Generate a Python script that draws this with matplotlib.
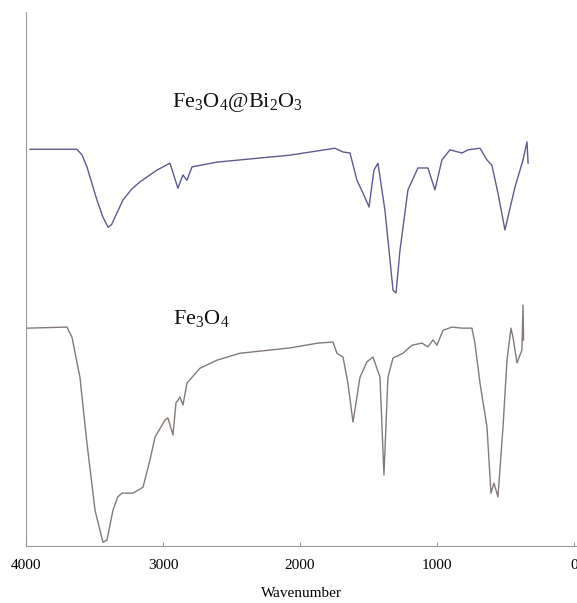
import matplotlib
matplotlib.use('Agg')
import matplotlib.pyplot as plt

# FTIR spectra (transmittance in arbitrary units)
wn_coated = [3971, 3628, 3590, 3555, 3482, 3438, 3401, 3375, 3350, 3292,
             3230, 3168, 3044, 2949, 2891, 2854, 2825, 2788, 2606, 2073,
             1745, 1686, 1635, 1584, 1540, 1496, 1460, 1431, 1380, 1343,
             1321, 1299, 1270, 1212, 1139, 1066, 1015, 964, 905, 818,
             774, 686, 635, 599, 555, 504, 431, 372, 343, 335]
t_coated = [74.3, 74.3, 73.2, 71.0, 64.8, 61.6, 59.7, 60.2, 61.6, 64.8,
            66.8, 68.2, 70.4, 71.7, 67.0, 69.5, 68.5, 71.0, 71.9, 73.2,
            74.5, 73.8, 73.6, 68.5, 66.1, 63.5, 70.4, 71.7, 62.9, 53.6,
            47.9, 47.4, 55.4, 66.7, 70.8, 70.8, 66.7, 72.3, 74.2, 73.6,
            74.2, 74.5, 72.3, 71.3, 66.1, 59.2, 67.2, 72.3, 75.7, 71.7]

wn_bare = [3993, 3701, 3664, 3606, 3555, 3496, 3438, 3409, 3365, 3330,
           3299, 3219, 3146, 3095, 3058, 2985, 2964, 2927, 2905, 2876,
           2854, 2825, 2730, 2606, 2438, 2073, 1869, 1759, 1730, 1686,
           1650, 1613, 1562, 1511, 1467, 1416, 1387, 1358, 1321, 1248,
           1183, 1110, 1066, 1029, 1000, 956, 891, 818, 745, 723,
           686, 635, 606, 584, 555, 518, 489, 460, 445, 416,
           380, 372, 368]
t_bare = [40.8, 41.0, 39.1, 31.6, 19.3, 6.7, 0.7, 1.1, 6.7, 9.2,
          9.9, 9.9, 11.0, 16.1, 20.4, 23.6, 24.0, 20.8, 26.8, 27.9,
          26.4, 30.5, 33.3, 34.8, 36.1, 37.1, 38.0, 38.2, 36.1, 35.4,
          30.5, 23.2, 31.6, 34.5, 35.4, 31.6, 13.3, 31.6, 35.2, 36.1,
          37.6, 38.0, 37.3, 38.6, 37.6, 40.4, 41.0, 40.8, 40.8, 38.0,
          30.5, 22.3, 9.9, 11.8, 9.2, 22.3, 34.8, 40.8, 39.1, 34.3,
          36.7, 45.1, 38.6]

xticks = [4000, 3000, 2000, 1000, 0]

plt.rcParams['font.family'] = ['Liberation Serif', 'DejaVu Serif']
plt.rcParams['mathtext.fontset'] = 'custom'
plt.rcParams['mathtext.rm'] = 'Liberation Serif'

fig = plt.figure(figsize=(5.77, 6.03), dpi=100)
ax = fig.add_axes([0.045, 0.0945, 0.955, 0.8855])

ax.plot(wn_coated, t_coated, color='#5b5b8e', lw=1.0)
ax.plot(wn_bare, t_bare, color='#837a76', lw=1.0)

ax.set_xlim(4000, -22)
ax.set_ylim(0, 100)

ax.text(2934, 83.0, r'Fe$_3$O$_4$@Bi$_2$O$_3$', fontsize=16, va='center', ha='left', color='#111111')
ax.text(2927, 42.5, r'Fe$_3$O$_4$', fontsize=16, va='center', ha='left', color='#111111')

for s in ['top', 'right']:
    ax.spines[s].set_visible(False)
ax.spines['left'].set_color('#9a9a9a')
ax.spines['bottom'].set_color('#9a9a9a')
ax.set_yticks([])
ax.set_xticks(xticks)
ax.set_xticklabels([str(t) for t in xticks])
ax.tick_params(axis='x', direction='in', length=3, color='#9a9a9a', pad=9, labelsize=11)
ax.set_xlabel('Wavenumber', fontsize=11, labelpad=11)

fig.savefig('out.png', dpi=100)
